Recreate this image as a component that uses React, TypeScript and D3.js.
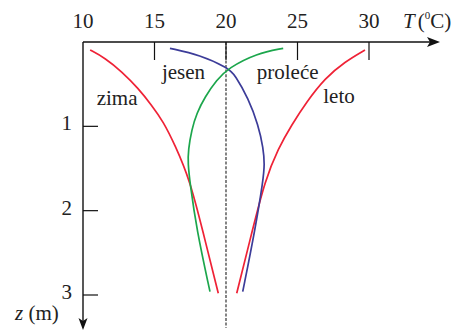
import React from "react";
import * as d3 from "d3";

// Temperature axis ticks (°C) and depth axis ticks (m)
const tempTicks = [10, 15, 20, 25, 30];
const depthTicks = [1, 2, 3];

// Seasonal temperature profiles: depth z (m) and temperature T (°C)
const zimaDepth = [0.095, 0.19, 0.35, 0.55, 0.75, 0.945, 1.22, 1.64, 2.23, 2.98];
const zimaTemp = [10.5, 11.55, 12.7, 13.87, 14.8, 15.62, 16.43, 17.48, 18.36, 19.46];

const letoDepth = [0.095, 0.234, 0.43, 0.71, 0.984, 1.26, 1.64, 2.23, 2.98];
const letoTemp = [29.72, 28.32, 26.92, 25.64, 24.59, 23.66, 22.73, 21.85, 20.75];

const jesenDepth = [0.075, 0.154, 0.31, 0.39, 0.67, 0.984, 1.26, 1.45, 1.64, 2.23, 2.96];
const jesenTemp = [16.08, 18.18, 20.16, 20.63, 21.56, 22.26, 22.61, 22.7, 22.6, 22.03, 21.17];

const prolDepth = [0.075, 0.134, 0.31, 0.45, 0.65, 0.845, 1.04, 1.28, 1.44, 1.67, 2.23, 2.96];
const prolTemp = [24.0, 22.15, 20.15, 19.35, 18.53, 17.95, 17.6, 17.36, 17.34, 17.48, 17.95, 18.88];

// Season names with label anchor (T, z)
const seasonNames = ["zima", "jesen", "proleće", "leto"];
const labelTemp = [10.96, 15.52, 22.15, 26.8];
const labelDepth = [0.747, 0.433, 0.433, 0.729];

const meanTemp = 20;

const W = 463;
const H = 333;
const FONT = "Liberation Serif, Times New Roman, serif";
const TEXT = "#222";

export default function App() {
  const x = d3.scaleLinear().domain([10, 30]).range([83, 369]);
  const y = d3.scaleLinear().domain([0, 3]).range([42, 295]);

  const line = d3
    .line<[number, number]>()
    .x((d) => x(d[1]))
    .y((d) => y(d[0]))
    .curve(d3.curveBasis);

  const series = [
    { depth: zimaDepth, temp: zimaTemp, color: "#ef2236" },
    { depth: letoDepth, temp: letoTemp, color: "#ef2236" },
    { depth: jesenDepth, temp: jesenTemp, color: "#3c3c99" },
    { depth: prolDepth, temp: prolTemp, color: "#1ca64c" },
  ];

  const x0 = x(10);
  const y0 = y(0);
  const arrowX = 440;
  const arrowY = 330;

  return (
    <svg
      width={W}
      height={H}
      style={{ position: "absolute", left: 0, top: 0, background: "#fff", fontFamily: FONT }}
    >
      {/* mean temperature reference */}
      <line
        x1={x(meanTemp)}
        x2={x(meanTemp)}
        y1={y0}
        y2={328}
        stroke="#333"
        strokeWidth={1.2}
        strokeDasharray="3,1.6"
      />

      {/* temperature axis */}
      <line x1={x0} x2={arrowX - 6} y1={y0} y2={y0} stroke="#111" strokeWidth={1.4} />
      <path
        d={`M${arrowX},${y0} L${arrowX - 13},${y0 - 5} L${arrowX - 10},${y0} L${arrowX - 13},${y0 + 5} Z`}
        fill="#111"
      />
      {tempTicks.map((t) => (
        <g key={t}>
          {t !== 10 && (
            <line x1={x(t)} x2={x(t)} y1={y0} y2={y0 + 18} stroke="#111" strokeWidth={1.2} />
          )}
          <text x={x(t)} y={28} textAnchor="middle" fontSize={21} fill={TEXT}>
            {t}
          </text>
        </g>
      ))}
      <text x={403} y={28} fontSize={21} fill={TEXT}>
        <tspan fontStyle="italic">T</tspan>
        <tspan dx={3}>(</tspan>
        <tspan fontSize={11} dy={-9}>0</tspan>
        <tspan dy={9}>C)</tspan>
      </text>

      {/* depth axis */}
      <line x1={x0} x2={x0} y1={y0} y2={arrowY - 6} stroke="#111" strokeWidth={1.4} />
      <path
        d={`M${x0},${arrowY} L${x0 - 4.5},${arrowY - 12} L${x0},${arrowY - 9} L${x0 + 4.5},${arrowY - 12} Z`}
        fill="#111"
      />
      {depthTicks.map((d) => (
        <g key={d}>
          <line x1={x0} x2={x0 + 15} y1={y(d)} y2={y(d)} stroke="#111" strokeWidth={1.2} />
          <text x={72} y={y(d) + 4} textAnchor="end" fontSize={21} fill={TEXT}>
            {d}
          </text>
        </g>
      ))}
      <text x={15} y={320} fontSize={21} fill={TEXT}>
        <tspan fontStyle="italic">z</tspan>
        <tspan> (m)</tspan>
      </text>

      {/* seasonal profiles */}
      {series.map((s, i) => (
        <path
          key={i}
          d={line(s.depth.map((z, k) => [z, s.temp[k]] as [number, number])) || ""}
          fill="none"
          stroke={s.color}
          strokeWidth={1.7}
        />
      ))}

      {seasonNames.map((n, i) => (
        <text key={n} x={x(labelTemp[i])} y={y(labelDepth[i])} fontSize={21} fill={TEXT}>
          {n}
        </text>
      ))}
    </svg>
  );
}
